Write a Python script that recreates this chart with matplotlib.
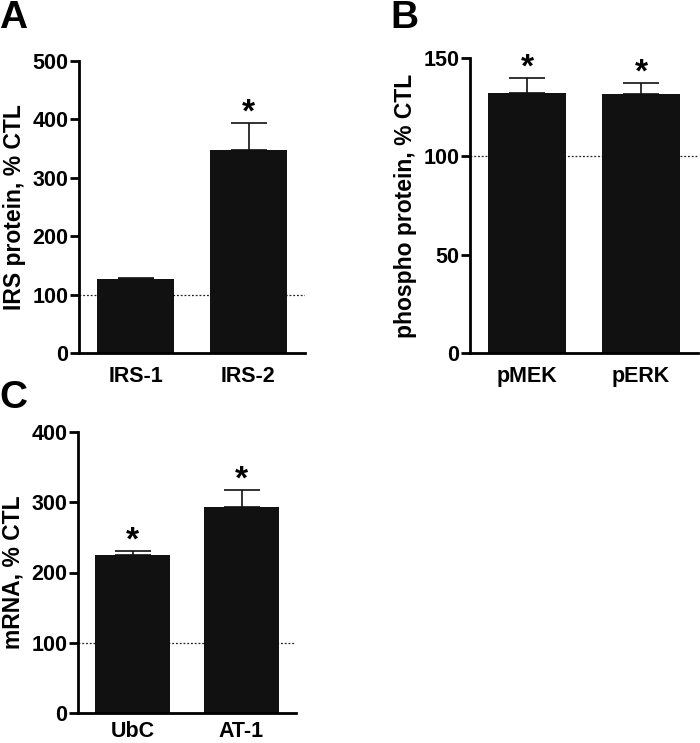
import matplotlib
matplotlib.use('Agg')
import matplotlib.pyplot as plt

plt.rcParams['font.family'] = ['Liberation Sans', 'DejaVu Sans']
plt.rcParams['font.weight'] = 'bold'

# Panel data
a_labels = ['IRS-1', 'IRS-2']
a_values = [127, 348]
a_errors = [2, 46]
a_star = [False, True]

b_labels = ['pMEK', 'pERK']
b_values = [132.3, 131.5]
b_errors = [7.7, 5.6]
b_star = [True, True]

c_labels = ['UbC', 'AT-1']
c_values = [225, 293]
c_errors = [6, 25]
c_star = [True, True]

W, H = 700, 743
fig = plt.figure(figsize=(7, 7.43), dpi=100)


def make_axes(left, top, right, bottom):
    return fig.add_axes([left / W, 1 - bottom / H, (right - left) / W, (bottom - top) / H])


def draw_panel(ax, labels, values, errors, stars, ymax, yticks, ylabel, letter, letter_xy, xpad):
    x = list(range(len(labels)))
    ax.axhline(100, color='#222222', lw=0.9, ls=(0, (1.5, 1.5)), zorder=0)
    ax.bar(x, values, width=0.69, color='#111111', zorder=2)
    ax.errorbar(x, values, yerr=[[0] * len(errors), errors], fmt='none',
                ecolor='#111111', elinewidth=1.2, capsize=13, capthick=1.2, zorder=3)
    for xi, v, e, s in zip(x, values, errors, stars):
        if s:
            ax.annotate('*', (xi, v + e), xytext=(0, -4), textcoords='offset points',
                        ha='center', va='bottom', fontsize=24, fontweight='bold')
    ax.set_xlim(-0.5, 1.5)
    ax.set_ylim(0, ymax)
    ax.set_yticks(yticks)
    ax.set_xticks(x)
    ax.set_xticklabels(labels, fontsize=15.5, fontweight='bold')
    ax.tick_params(axis='x', length=0, pad=xpad)
    ax.tick_params(axis='y', length=6.5, width=2, labelsize=15.5, pad=1)
    for lab in ax.get_yticklabels():
        lab.set_fontweight('bold')
    ax.spines['top'].set_visible(False)
    ax.spines['right'].set_visible(False)
    ax.spines['left'].set_linewidth(2)
    ax.spines['bottom'].set_linewidth(2)
    ax.set_ylabel(ylabel, fontsize=16.5, fontweight='bold', labelpad=5)
    fig.text(letter_xy[0] / W, 1 - letter_xy[1] / H, letter, fontsize=28,
             fontweight='bold', ha='left', va='top')


ax_a = make_axes(79, 61, 305, 353)
draw_panel(ax_a, a_labels, a_values, a_errors, a_star, 500,
           [0, 100, 200, 300, 400, 500], 'IRS protein, % CTL', 'A', (-1, 0), 9)

ax_b = make_axes(470, 58, 698, 353)
draw_panel(ax_b, b_labels, b_values, b_errors, b_star, 150,
           [0, 50, 100, 150], 'phospho protein, % CTL', 'B', (390, 0), 9)

ax_c = make_axes(78, 432, 296, 713)
draw_panel(ax_c, c_labels, c_values, c_errors, c_star, 400,
           [0, 100, 200, 300, 400], 'mRNA, % CTL', 'C', (-1, 380), 6)

fig.savefig('out.png', dpi=100)
